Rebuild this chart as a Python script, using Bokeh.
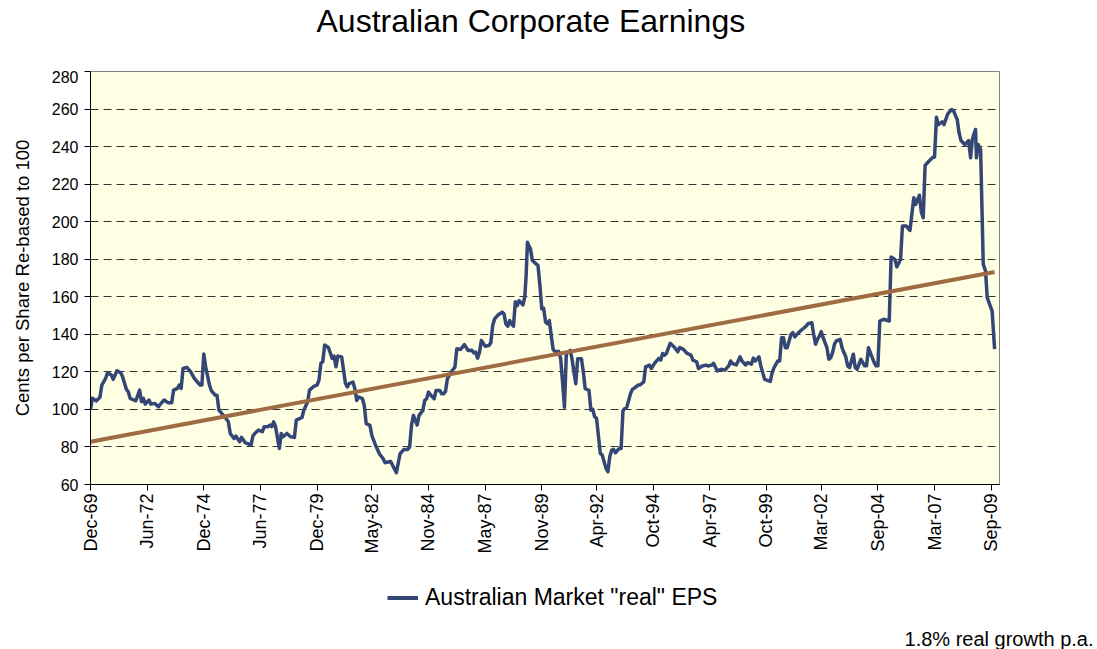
from bokeh.plotting import figure
from bokeh.layouts import column
from bokeh.models import Range1d, FixedTicker, Label, Legend, LegendItem
from bokeh.embed import file_html
from bokeh.resources import INLINE
import math

# ---- data (month offsets from Dec-69) ----
months = [
    0, 1, 3, 5, 6, 8, 9, 11, 12, 14,
    16, 17, 19, 20, 21, 23, 24, 26, 27, 28,
    29, 31, 32, 34, 36, 37, 39, 41, 43, 44,
    46, 47, 48, 49, 51, 53, 55, 58, 59, 60,
    61, 63, 64, 66, 67, 68, 71, 73, 74, 76,
    77, 79, 80, 82, 83, 85, 86, 87, 89, 91,
    92, 94, 95, 96, 97, 98, 100, 101, 102, 104,
    106, 108, 109, 112, 113, 115, 116, 118, 120, 121,
    122, 123, 124, 126, 128, 129, 130, 131, 133, 134,
    135, 136, 137, 139, 140, 141, 142, 144, 145, 146,
    148, 149, 151, 153, 155, 156, 157, 159, 160, 162,
    163, 164, 166, 168, 169, 170, 171, 173, 174, 176,
    177, 178, 179, 180, 182, 183, 185, 186, 187, 188,
    189, 191, 193, 194, 196, 198, 200, 202, 203, 204,
    205, 206, 207, 209, 211, 212, 213, 214, 216, 218,
    219, 220, 221, 222, 223, 224, 225, 226, 227, 229,
    230, 230.7, 231.4, 232, 233, 234, 236, 237, 238, 239,
    240, 241, 242, 243, 244, 245, 246, 248, 249, 250,
    251, 252, 254, 255, 256, 257, 258, 260, 261, 262,
    264, 265, 266, 267, 268, 270, 271, 272, 273, 274,
    275, 276, 277, 278, 280, 281, 282, 283, 284, 286,
    287, 289, 290, 291, 293, 294, 296, 297, 299, 301,
    302, 303, 304, 305, 307, 308, 309, 311, 312, 314,
    316, 318, 319, 321, 322, 324, 326, 327, 329, 330,
    332, 334, 336, 338, 339, 340, 342, 343, 344, 345,
    347, 348, 350, 351, 352, 354, 355, 356, 357, 358,
    360, 361, 362, 364, 365, 366, 367, 368, 369, 371,
    372, 373, 375, 377, 378, 379, 380, 382, 383, 384,
    385, 386, 387, 388, 390, 391, 392, 393, 394, 395,
    397, 398, 399, 400, 401, 402, 404, 405, 406, 408,
    410, 411, 412, 414, 415, 416, 417, 418, 420, 423,
    424, 426, 427, 429, 430, 432, 434, 436, 437, 439,
    440, 441, 442, 444, 446, 447, 448, 449, 451, 452,
    454, 456, 457, 459, 460, 461, 463, 464, 465, 466.1,
    467, 467.8, 468.7, 469.2, 470.1, 471.4, 472.8, 474, 474.9, 477.5,
    478.8,
]
eps = [
    100, 106, 104.5, 106.5, 113, 116.5, 119.5, 118.3, 116, 120.6,
    119.5, 117.4, 110.7, 109.4, 105.9, 105, 104.6, 110.3, 104.1, 105.9,
    102.8, 105, 102.8, 103.2, 101.4, 102.8, 105, 103.6, 103.6, 110.3,
    111.2, 113, 111.2, 121.8, 122.4, 120.1, 116.5, 113, 113, 129.5,
    122.7, 113, 110, 107.6, 107.6, 99.6, 96.1, 93.4, 87.2, 84.5,
    85.8, 82.8, 85.1, 82.2, 81.9, 81, 85.8, 87.2, 89, 88.1,
    90.8, 90.8, 91.7, 90.8, 93.4, 90.8, 79.2, 87.2, 85.4, 87.2,
    85.4, 85.1, 94.3, 95.7, 99.6, 104.1, 110.3, 112.1, 113, 115.6,
    124.5, 125.4, 134.3, 133, 127.2, 128.4, 122.7, 128.4, 128, 121,
    114, 112, 113.7, 114.6, 111, 104.8, 106.6, 105.7, 102.1, 92.4,
    91.5, 86.1, 80.8, 76.4, 73.7, 71.6, 71.9, 72.3, 70.2, 66.3,
    71.6, 76.4, 78.7, 78.7, 79.9, 91.5, 96.8, 91.7, 96.8, 99.5,
    104.8, 105.7, 109.2, 107.8, 105.7, 110.1, 110.1, 108.3, 108.3, 109.6,
    116.3, 119.9, 122.5, 132.3, 131.9, 134.5, 131.4, 131.5, 130.1, 130.5,
    127.3, 130.5, 136.7, 133.7, 134, 135.5, 144.7, 148.2, 150.4, 151.8,
    150.9, 145.6, 144.3, 147.3, 145.6, 144.3, 157.4, 155.3, 158, 155.7,
    159.8, 171.3, 189, 187.6, 185.5, 179.3, 177.5, 176.6, 166, 153.5,
    153.9, 146.5, 145.6, 147.3, 139.4, 131.9, 130.9, 130.9, 127, 114.5,
    101.2, 129.6, 131.4, 127, 119.9, 113.7, 127, 127, 119.9, 111,
    110.1, 99.6, 100, 96.1, 95.2, 76.6, 75.7, 72.1, 68.6, 66.8,
    74.8, 78.3, 78.7, 76.9, 79.2, 79.2, 99.3, 100.5, 101.1, 108.5,
    110.7, 112.1, 113, 113, 114.7, 122.7, 123.6, 121.8, 124.9, 127.2,
    126.3, 129.8, 128.9, 129.8, 135.2, 134.3, 133.4, 130.7, 133, 132,
    129.8, 128.9, 126.3, 125.4, 121.8, 123.1, 123.6, 123.1, 123.6, 124.5,
    120.5, 121.4, 120.9, 123.2, 125.8, 124.4, 123.7, 125.8, 128, 125.8,
    123.7, 125, 124.1, 127.3, 125.8, 128, 123.2, 119.6, 116.1, 115.6,
    114.9, 119.6, 122.3, 125.8, 125.8, 138.2, 138.2, 132.9, 132.9, 140,
    140.9, 138.6, 140.9, 142.7, 143.5, 144.4, 145.7, 146.2, 140, 134.7,
    137.3, 139.1, 141.4, 138.2, 132.9, 126.7, 127.6, 130.3, 134.7, 136.5,
    137.3, 132.9, 130.3, 128, 123.2, 122.3, 129.4, 122.3, 121.4, 126.7,
    123.2, 123.2, 132.9, 127.6, 125, 123.2, 123.2, 147.1, 148, 147.1,
    181.2, 179.9, 175.9, 179.9, 197.7, 197.7, 195.4, 212.7, 209.2, 214.1,
    205, 202.1, 230, 232.2, 234.2, 234.4, 255.6, 251.7, 253.2, 251.7,
    257.4, 259.7, 259.2, 254.4, 247.3, 243.2, 241.1, 242, 243.2, 234,
    243.8, 246.4, 249.1, 234, 241.1, 238.4, 177.3, 173.7, 159.5, 152.4,
    132.1,
]

# linear trend (1.8% real growth p.a.)
trend_months = [0, 478.8]
trend_values = [82.8, 173.2]

tick_months = [0, 30, 60, 90, 120, 149, 179, 209, 239, 268, 298, 328, 358, 387, 417, 447, 477]
tick_labels = ["Dec-69", "Jun-72", "Dec-74", "Jun-77", "Dec-79", "May-82", "Nov-84", "May-87",
               "Nov-89", "Apr-92", "Oct-94", "Apr-97", "Oct-99", "Mar-02", "Sep-04", "Mar-07", "Sep-09"]
y_ticks = [60, 80, 100, 120, 140, 160, 180, 200, 220, 240, 260, 280]

FONT = "Liberation Sans"
EPS_COLOR = "#344675"
TREND_COLOR = "#9E6B43"
W = 1097


def blank_fig(height):
    # ranges far from the data so that only annotations are seen
    f = figure(width=W, height=height, output_backend="svg", toolbar_location=None,
               x_range=Range1d(5000, 5000 + W), y_range=Range1d(5000, 5000 + height),
               x_axis_location=None, y_axis_location=None,
               min_border=0, min_border_left=0, min_border_right=0,
               min_border_top=0, min_border_bottom=0)
    try:
        f.frame_align = False
    except Exception:
        pass
    f.grid.visible = False
    f.outline_line_color = None
    f.background_fill_color = "white"
    f.border_fill_color = "white"
    return f


# ---- header with the title ----
header = blank_fig(70)
header.add_layout(Label(x=316, y=50, x_units="screen", y_units="screen",
                        text="Australian Corporate Earnings",
                        text_align="left", text_baseline="middle",
                        text_font=FONT, text_font_size="32px", text_color="black"))

# ---- main chart ----
p = figure(width=W, height=486, output_backend="svg", toolbar_location=None,
           x_range=Range1d(0, 481.4), y_range=Range1d(60, 280),
           min_border_left=90, min_border_right=98, min_border_top=1, min_border_bottom=72)

p.background_fill_color = "#FFFFE4"
p.border_fill_color = "white"
p.outline_line_color = "#808080"
p.outline_line_width = 1

p.xgrid.visible = False
p.ygrid.grid_line_color = "#333333"
p.ygrid.grid_line_dash = "8 5"
p.ygrid.grid_line_width = 1
p.ygrid.ticker = FixedTicker(ticks=y_ticks)

p.yaxis.ticker = FixedTicker(ticks=y_ticks)
p.yaxis.axis_label = "Cents per Share Re-based to 100"
p.yaxis.axis_label_text_font = FONT
p.yaxis.axis_label_text_font_size = "18.5px"
p.yaxis.axis_label_text_font_style = "normal"
p.yaxis.axis_label_text_color = "black"
p.yaxis.axis_label_standoff = 16
p.yaxis.major_label_text_font = FONT
p.yaxis.major_label_text_font_size = "16px"
p.yaxis.major_label_text_color = "black"
p.yaxis.major_tick_out = 6
p.yaxis.major_tick_in = 0
p.yaxis.minor_tick_out = 0
p.yaxis.minor_tick_in = 0
p.yaxis.major_label_standoff = 6
p.yaxis.axis_line_color = "black"
p.yaxis.major_tick_line_color = "black"

p.xaxis.ticker = FixedTicker(ticks=tick_months)
p.xaxis.major_label_overrides = {m: lab for m, lab in zip(tick_months, tick_labels)}
p.xaxis.major_label_orientation = math.pi / 2
p.xaxis.major_label_text_font = FONT
p.xaxis.major_label_text_font_size = "18px"
p.xaxis.major_label_text_color = "black"
p.xaxis.major_tick_out = 6
p.xaxis.major_tick_in = 0
p.xaxis.minor_tick_out = 0
p.xaxis.minor_tick_in = 0
p.xaxis.major_label_standoff = 3
p.xaxis.axis_line_color = "black"
p.xaxis.major_tick_line_color = "black"

p.line(months, eps, line_color=EPS_COLOR, line_width=3.5, line_join="round")
p.line(trend_months, trend_values, line_color=TREND_COLOR, line_width=4)

# ---- footer with legend and note ----
footer = blank_fig(93)
swatch = footer.line(months, eps, line_color=EPS_COLOR, line_width=4)
legend = Legend(items=[LegendItem(label='Australian Market "real" EPS', renderers=[swatch])],
                location=(387, 38), orientation="horizontal",
                border_line_color=None, background_fill_alpha=0,
                label_text_font=FONT, label_text_font_size="23px", label_text_color="black",
                glyph_width=31, glyph_height=27, label_height=27,
                label_standoff=7, padding=0, margin=0)
footer.add_layout(legend, "center")
footer.add_layout(Label(x=1093, y=11, x_units="screen", y_units="screen",
                        text="1.8% real growth p.a.",
                        text_align="right", text_baseline="middle",
                        text_font=FONT, text_font_size="20px", text_color="black"))

layout = column(header, p, footer, spacing=0)
open("out.html", "w").write(file_html(layout, INLINE))
